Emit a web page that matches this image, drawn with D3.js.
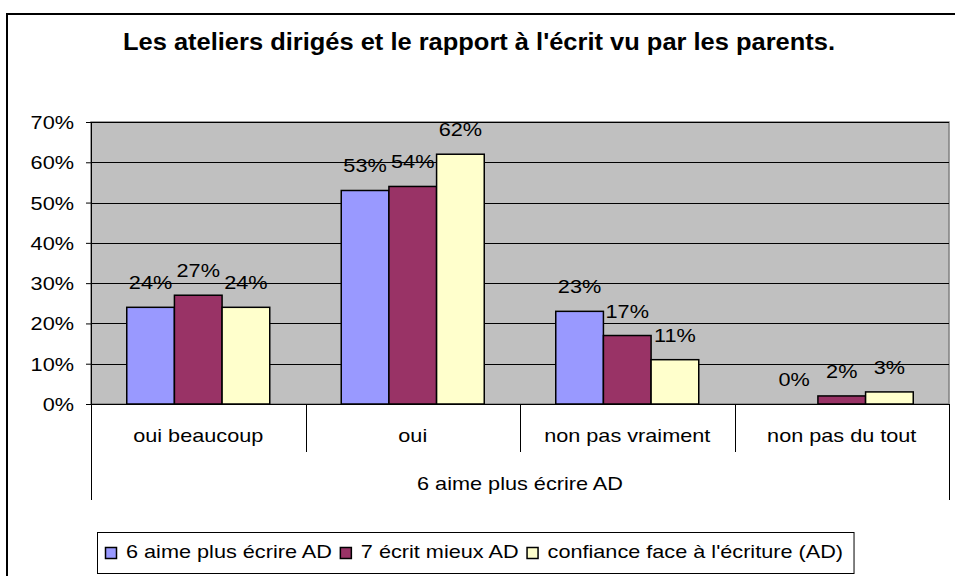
<!DOCTYPE html>
<html>
<head>
<meta charset="utf-8">
<script src="https://cdn.jsdelivr.net/npm/d3@7"></script>
<style>
  html, body { margin: 0; padding: 0; background: #fff; }
  svg { display: block; }
  text { font-family: "Liberation Sans", Arial, sans-serif; fill: #000; }
</style>
</head>
<body>
<svg id="chart" width="955" height="576"></svg>
<script>
// Réponses des parents, par modalité
const categories = ["oui beaucoup", "oui", "non pas vraiment", "non pas du tout"];
const groupLabel = "6 aime plus écrire AD";
const seriesNames = ["6 aime plus écrire AD", "7 écrit mieux AD", "confiance face à l'écriture (AD)"];
const aimePlus   = [0.24, 0.53, 0.23, 0.00];
const ecritMieux = [0.27, 0.54, 0.17, 0.02];
const confiance  = [0.24, 0.62, 0.11, 0.03];
const yTicks = [0, 0.1, 0.2, 0.3, 0.4, 0.5, 0.6, 0.7];
const titleText = "Les ateliers dirigés et le rapport à l'écrit vu par les parents.";

const seriesValues = [aimePlus, ecritMieux, confiance];
const colors = ["#9999FF", "#993366", "#FFFFCC"];

const svg = d3.select("#chart");
const W = 955, H = 576;
const plot = { left: 91, right: 949, top: 122, bottom: 404 };

// Excel-like text: slightly widened glyphs
const WIDEN = 1.14;
function widen(sel, k = WIDEN) {
  sel.each(function () {
    const w = this.getComputedTextLength();
    this.setAttribute("textLength", (w * k).toFixed(1));
    this.setAttribute("lengthAdjust", "spacingAndGlyphs");
  });
  return sel;
}

svg.append("rect").attr("width", W).attr("height", H).attr("fill", "#fff");

// Cadre du graphique
svg.append("rect")
  .attr("x", 7).attr("y", 14).attr("width", 980).attr("height", 620)
  .attr("fill", "none").attr("stroke", "#000").attr("stroke-width", 2);

// Titre
svg.append("text")
  .attr("x", 479).attr("y", 50)
  .attr("text-anchor", "middle")
  .attr("font-size", 23).attr("font-weight", "bold")
  .attr("textLength", 712).attr("lengthAdjust", "spacingAndGlyphs")
  .text(titleText);

// Échelles
const x0 = d3.scaleBand().domain(categories).range([plot.left, plot.right]).paddingInner(0).paddingOuter(0);
const x1 = d3.scaleBand().domain(d3.range(seriesValues.length)).range([0, x0.bandwidth()])
  .paddingInner(0).paddingOuter(0.75);
const y = d3.scaleLinear().domain([0, 0.7]).range([plot.bottom, plot.top]);

// Zone de traçage
svg.append("rect")
  .attr("x", plot.left).attr("y", plot.top)
  .attr("width", plot.right - plot.left).attr("height", plot.bottom - plot.top)
  .attr("fill", "#C0C0C0").attr("stroke", "#808080").attr("stroke-width", 1.5);

// Quadrillage
svg.append("g").selectAll("line").data(yTicks.filter(t => t > 0)).join("line")
  .attr("x1", plot.left).attr("x2", plot.right)
  .attr("y1", d => Math.round(y(d)) + 0.5).attr("y2", d => Math.round(y(d)) + 0.5)
  .attr("stroke", "#000").attr("stroke-width", 1);

// Axe vertical
const yAxis = d3.axisLeft(y).tickValues(yTicks).tickFormat(d3.format(".0%")).tickSize(5).tickPadding(12);
const gy = svg.append("g").attr("transform", `translate(${plot.left},0)`).call(yAxis);
gy.select(".domain").attr("stroke", "#000");
gy.selectAll(".tick line").attr("stroke", "#000");
gy.selectAll(".tick text")
  .attr("font-size", 19).attr("font-family", "Liberation Sans, Arial, sans-serif")
  .attr("dy", "0.34em").attr("fill", "#000");
widen(gy.selectAll(".tick text"));

// Barres
const groups = svg.append("g").selectAll("g").data(categories).join("g")
  .attr("transform", c => `translate(${x0(c)},0)`);

groups.selectAll("rect")
  .data((c, ci) => seriesValues.map((vals, si) => ({ si, v: vals[ci] })))
  .join("rect")
  .attr("x", d => x1(d.si))
  .attr("y", d => y(d.v))
  .attr("width", x1.bandwidth())
  .attr("height", d => y(0) - y(d.v))
  .attr("fill", d => colors[d.si])
  .attr("stroke", "#000").attr("stroke-width", d => d.v > 0 ? 1.5 : 0);

// Étiquettes de données
const labels = groups.selectAll("text.val")
  .data((c, ci) => seriesValues.map((vals, si) => ({ si, v: vals[ci] })))
  .join("text").attr("class", "val")
  .attr("x", d => x1(d.si) + x1.bandwidth() / 2)
  .attr("y", d => y(d.v) - 18)
  .attr("text-anchor", "middle")
  .attr("font-size", 19)
  .text(d => d3.format(".0%")(d.v));
widen(labels);

// Axe horizontal
svg.append("line")
  .attr("x1", plot.left - 5).attr("x2", plot.right)
  .attr("y1", plot.bottom + 0.5).attr("y2", plot.bottom + 0.5)
  .attr("stroke", "#000").attr("stroke-width", 1);

// Séparateurs de catégories
const bounds = categories.map(c => x0(c)).concat([plot.right]);
svg.append("g").selectAll("line").data(bounds).join("line")
  .attr("x1", d => Math.round(d) + 0.5).attr("x2", d => Math.round(d) + 0.5)
  .attr("y1", plot.bottom)
  .attr("y2", (d, i) => (i === 0 || i === bounds.length - 1) ? 500 : 452)
  .attr("stroke", "#000").attr("stroke-width", 1);

// Libellés de catégories
widen(svg.append("g").selectAll("text").data(categories).join("text")
  .attr("x", c => x0(c) + x0.bandwidth() / 2)
  .attr("y", 442)
  .attr("text-anchor", "middle")
  .attr("font-size", 19)
  .text(c => c));

// Libellé de groupe
widen(svg.append("text")
  .attr("x", (plot.left + plot.right) / 2).attr("y", 490)
  .attr("text-anchor", "middle")
  .attr("font-size", 19)
  .text(groupLabel));

// Légende
const legend = svg.append("g");
const legBox = legend.append("rect")
  .attr("y", 532.5).attr("height", 41)
  .attr("fill", "#fff").attr("stroke", "#000").attr("stroke-width", 1);
let lx = 105;
const legLeft = 97.5;
seriesNames.forEach((name, i) => {
  legend.append("rect")
    .attr("x", lx + 0.5).attr("y", 547.5).attr("width", 11).attr("height", 11)
    .attr("fill", colors[i]).attr("stroke", "#000").attr("stroke-width", 1.5);
  const t = legend.append("text")
    .attr("x", lx + 21).attr("y", 558)
    .attr("font-size", 19)
    .text(name);
  const w = t.node().getComputedTextLength() * WIDEN;
  t.attr("textLength", w.toFixed(1)).attr("lengthAdjust", "spacingAndGlyphs");
  lx = lx + 21 + w + 8;
});
legBox.attr("x", legLeft).attr("width", lx - 8 + 11 - legLeft);
</script>
</body>
</html>
